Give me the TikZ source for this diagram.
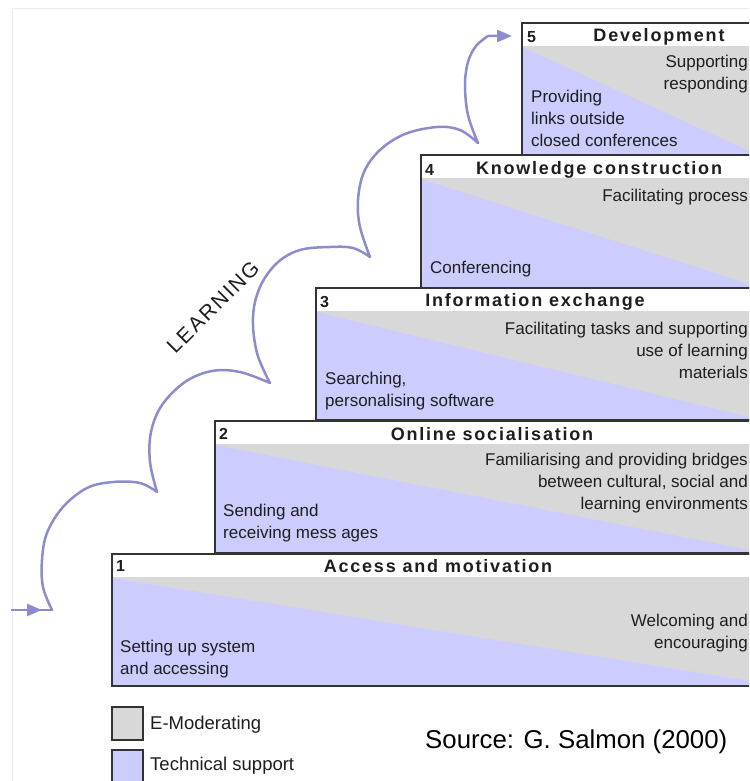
\documentclass[tikz,border=0pt]{standalone}
\usepackage{fontspec}
\setmainfont{Liberation Sans}
\newfontfamily\titlefont{Liberation Sans}[LetterSpace=10]
\newfontfamily\learnfont{Liberation Sans}[LetterSpace=9]
\usetikzlibrary{arrows.meta}

\definecolor{emod}{RGB}{216,216,216}
\definecolor{tech}{RGB}{204,204,255}
\definecolor{learn}{RGB}{140,140,205}
\definecolor{edge}{RGB}{51,51,51}
\definecolor{ink}{RGB}{30,30,30}
\definecolor{hair}{RGB}{235,235,235}

\tikzset{
  boxline/.style={draw=edge, line width=2pt},
  stagetitle/.style={font=\titlefont\bfseries\fontsize{18}{20}\selectfont, inner sep=0, text=ink},
  stagenum/.style={font=\bfseries\fontsize{16}{18}\selectfont, anchor=west, inner sep=0, text=ink},
  techtext/.style={font=\fontsize{17}{22}\selectfont, align=left, anchor=west, inner sep=0, text=ink},
  modtext/.style={font=\fontsize{17}{22}\selectfont, align=right, anchor=east, inner sep=0, text=ink},
  keybox/.style={draw=edge, line width=2pt, minimum width=31pt, minimum height=33pt, inner sep=0},
  keytext/.style={font=\fontsize{18.5}{22}\selectfont, anchor=west, inner sep=0, text=ink},
  learnline/.style={draw=learn, line width=2.5pt, line join=round, line cap=round},
  tip/.style={-{Triangle[length=15pt,width=12pt]}}
}

\begin{document}
\begin{tikzpicture}[x=1pt,y=-1pt]
\useasboundingbox (0,0) rectangle (749,781);
\clip (0,0) rectangle (749,781);
\fill[white] (0,0) rectangle (749,781);

% faint outer frame
\draw[hair, line width=1pt] (12,800) -- (12,9) -- (760,9);

% the five stages: number/left/top/bottom/end of the diagonal
\foreach \n/\L/\T/\B/\D in {5/522/23/155/151, 4/421/155/288/284, 3/316/288/420/417, 2/215/421/553/550, 1/112/554/686/681}{
  \fill[emod] (\L,\T+23) rectangle (760,\B);
  \fill[tech] (\L,\T+24) -- (749,\D) -- (760,\D) -- (760,\B) -- (\L,\B) -- cycle;
  \draw[boxline] (760,\T) -- (\L,\T) -- (\L,\B) -- (760,\B);
}

% stage numbers and titles
\node[stagenum] (n5) at (527,37) {5};
\node[stagenum] (n4) at (425,170) {4};
\node[stagenum] (n3) at (320,302) {3};
\node[stagenum] (n2) at (219,434) {2};
\node[stagenum] (n1) at (116,566) {1};
\node[stagetitle] (t5) at (659,37) {Development};
\node[stagetitle] (t4) at (599,170) {Knowledge construction};
\node[stagetitle] (t3) at (535,302) {Information exchange};
\node[stagetitle] (t2) at (492,434) {Online socialisation};
\node[stagetitle] (t1) at (438,566) {Access and motivation};

% technical support texts
\node[techtext] (s5) at (531,118.5) {Providing\\links outside\\closed conferences};
\node[techtext] (s4) at (430,269) {Conferencing};
\node[techtext] (s3) at (325,391) {Searching,\\personalising software};
\node[techtext] (s2) at (223,523.5) {Sending and\\receiving mess ages};
\node[techtext] (s1) at (120,659) {Setting up system\\and accessing};

% e-moderating texts
\node[modtext] (m5) at (748,74) {Supporting\\responding};
\node[modtext] (m4) at (748,197) {Facilitating process};
\node[modtext] (m3) at (748,350) {Facilitating tasks and supporting\\use of learning\\materials};
\node[modtext] (m2) at (748,483.5) {Familiarising and providing bridges\\between cultural, social and\\learning environments};
\node[modtext] (m1) at (748,633) {Welcoming and\\encouraging};

% legend
\node[keybox, fill=emod] (k1) at (127.5,723.5) {};
\node[keybox, fill=tech] (k2) at (127.5,766) {};
\node[keytext] (k1t) at (150,725) {E-Moderating};
\node[keytext] (k2t) at (150,766) {Technical support};
\node[font=\fontsize{25.8}{30}\selectfont, anchor=west, inner sep=0] (src) at (425,742) {Source: G. Salmon (2000)};

% learning path
\coordinate (lin) at (12,610);
\coordinate (lmid) at (42,610);
\coordinate (c0) at (52,610);
\coordinate (lpre) at (488,36);
\coordinate (lend) at (512,36);
\draw[learnline] (lin) -- (c0);
\draw[learnline, tip] (lin) -- (lmid);
\draw[learnline, tip] (c0)
  -- plot[smooth, tension=0.6] coordinates {(52,610) (43,587) (42,560) (47,533) (63,507) (87,488) (113,482) (140,483) (157,492)}
  -- plot[smooth, tension=0.6] coordinates {(157,492) (150,462) (151,432) (162,405) (185,382) (212,371) (240,372) (270,383)}
  -- plot[smooth, tension=0.6] coordinates {(270,383) (257,353) (253,317) (260,287) (277,263) (300,250) (330,247) (353,248) (370,257)}
  -- plot[smooth, tension=0.6] coordinates {(370,257) (360,227) (358,200) (364,172) (380,150) (405,134) (437,127) (460,130) (478,143)}
  -- plot[smooth, tension=0.6] coordinates {(478,143) (468,115) (465,85) (468,62) (476,46) (lpre)}
  -- (lend);

\node[font=\learnfont\fontsize{21}{24}\selectfont, rotate=45, inner sep=0, text=ink] (learning) at (213,307) {LEARNING};
\end{tikzpicture}
\end{document}
